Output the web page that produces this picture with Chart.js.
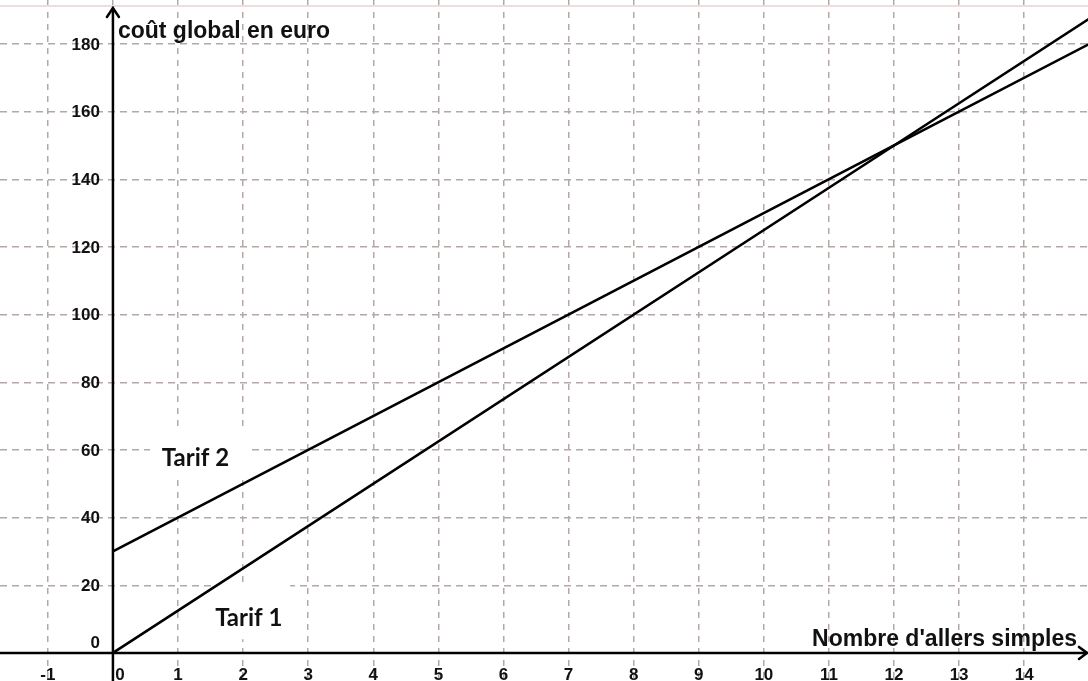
<!DOCTYPE html>
<html><head><meta charset="utf-8">
<script src="https://cdn.jsdelivr.net/npm/chart.js@4"></script>
<style>html,body{margin:0;padding:0;background:#fff;overflow:hidden}</style>
</head><body>
<canvas id="c" width="1088" height="681"></canvas>
<script>
const nbAllers = [0, 12, 15];
const tarif1 = [0, 150, 187.5];
const tarif2 = [30, 150, 180];
const seriesLabels = ['Tarif 1', 'Tarif 2'];
const xTickValues = [-1, 0, 1, 2, 3, 4, 5, 6, 7, 8, 9, 10, 11, 12, 13, 14];
const xTickLabels = ['-1', '0', '1', '2', '3', '4', '5', '6', '7', '8', '9', '10', '11', '12', '13', '14'];
const yTickValues = [0, 20, 40, 60, 80, 100, 120, 140, 160, 180];
const yTickLabels = ['0', '20', '40', '60', '80', '100', '120', '140', '160', '180'];
const yTitle = 'coût global en euro';
const xTitle = "Nombre d'allers simples";

const overlay = {
  id: 'overlay',
  beforeDatasetsDraw(chart) {
    const ctx = chart.ctx, xs = chart.scales.x, ys = chart.scales.y;
    ctx.save();
    ctx.strokeStyle = '#ecdede'; ctx.lineWidth = 2;
    ctx.beginPath(); ctx.moveTo(0, 6); ctx.lineTo(chart.width, 6); ctx.stroke();
    ctx.fillStyle = '#fff';
    const b2x = xs.getPixelForValue(0.57), b2y = ys.getPixelForValue(67);
    ctx.fillRect(b2x, b2y, 100, 52);
    const b1x = xs.getPixelForValue(1.54), b1y = ys.getPixelForValue(20.3);
    ctx.fillRect(b1x, b1y, 77, 55);
    ctx.restore();
  },
  afterDatasetsDraw(chart) {
    const ctx = chart.ctx, xs = chart.scales.x, ys = chart.scales.y;
    const x0 = xs.getPixelForValue(0), y0 = ys.getPixelForValue(0);
    ctx.save();
    ctx.strokeStyle = '#000'; ctx.lineWidth = 2.5; ctx.lineCap = 'round';
    ctx.beginPath(); ctx.moveTo(x0, chart.height); ctx.lineTo(x0, 8); ctx.stroke();
    ctx.beginPath(); ctx.moveTo(x0 - 6, 17); ctx.lineTo(x0, 8); ctx.lineTo(x0 + 6, 17); ctx.stroke();
    ctx.beginPath(); ctx.moveTo(0, y0); ctx.lineTo(chart.width - 1, y0); ctx.stroke();
    ctx.beginPath(); ctx.moveTo(chart.width - 9, y0 - 6); ctx.lineTo(chart.width - 1, y0); ctx.lineTo(chart.width - 9, y0 + 6); ctx.stroke();
    ctx.fillStyle = '#111';
    ctx.font = 'bold 17px "Liberation Sans", Arial, sans-serif';
    ctx.textAlign = 'right'; ctx.textBaseline = 'middle';
    yTickValues.forEach((v, i) => {
      const yy = v === 0 ? ys.getPixelForValue(v) - 10 : ys.getPixelForValue(v) + 1;
      ctx.fillText(yTickLabels[i], x0 - 13, yy);
    });
    ctx.textAlign = 'center';
    xTickValues.forEach((v, i) => {
      const xx = v === 0 ? xs.getPixelForValue(v) + 7 : xs.getPixelForValue(v);
      ctx.fillText(xTickLabels[i], xx, y0 + 22);
    });
    ctx.font = 'bold 23px "Liberation Sans", Arial, sans-serif';
    ctx.textBaseline = 'alphabetic';
    ctx.textAlign = 'left';
    ctx.fillText(yTitle, x0 + 5, 38);
    ctx.textAlign = 'right';
    ctx.fillText(xTitle, chart.width - 11, y0 - 7);
    ctx.font = 'bold 24px Lato, "Open Sans", sans-serif';
    ctx.textAlign = 'left';
    ctx.fillText(seriesLabels[1], xs.getPixelForValue(0.75), ys.getPixelForValue(55.3));
    ctx.fillText(seriesLabels[0], xs.getPixelForValue(1.57), ys.getPixelForValue(8));
    ctx.restore();
  }
};

const mk = (ys) => nbAllers.map((x, i) => ({ x, y: ys[i] }));

new Chart(document.getElementById('c'), {
  type: 'scatter',
  data: {
    datasets: [
      { label: seriesLabels[0], data: mk(tarif1), showLine: true, borderColor: '#000', borderWidth: 2.6, pointRadius: 0, tension: 0 },
      { label: seriesLabels[1], data: mk(tarif2), showLine: true, borderColor: '#000', borderWidth: 2.6, pointRadius: 0, tension: 0 }
    ]
  },
  options: {
    responsive: false,
    devicePixelRatio: 1,
    animation: false,
    layout: { padding: 0 },
    plugins: { legend: { display: false }, tooltip: { enabled: false } },
    scales: {
      x: {
        type: 'linear', min: -1.735, max: 14.98,
        afterBuildTicks: (s) => { s.ticks = xTickValues.map(v => ({ value: v })); },
        ticks: { display: false },
        grid: { color: '#b3a8a6', lineWidth: 1.5, drawTicks: false },
        border: { display: false, dash: [6, 6] }
      },
      y: {
        type: 'linear', min: -8.3, max: 193,
        afterBuildTicks: (s) => { s.ticks = yTickValues.map(v => ({ value: v })); },
        ticks: { display: false },
        grid: { color: '#b3a8a6', lineWidth: 1.5, drawTicks: false },
        border: { display: false, dash: [7, 5] }
      }
    }
  },
  plugins: [overlay]
});
</script>
</body></html>
